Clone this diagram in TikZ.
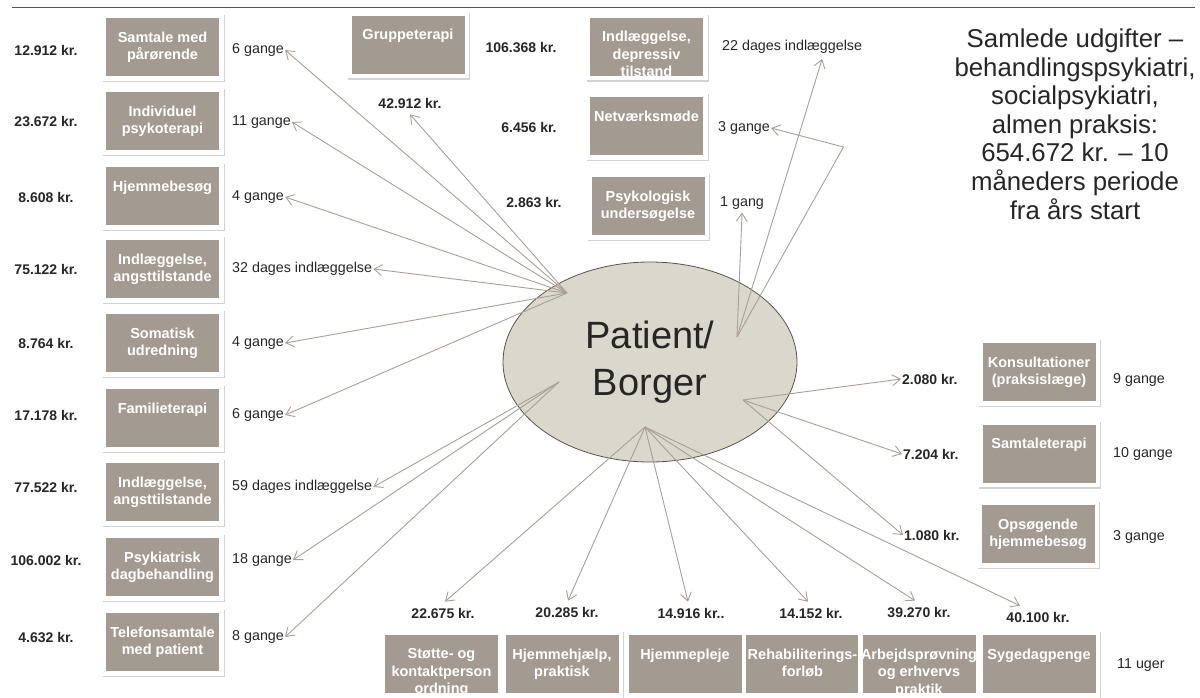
\documentclass[tikz,border=0pt]{standalone}
\usepackage{fontspec}
\setmainfont{Liberation Sans}
\usetikzlibrary{arrows.meta,shadows,shapes.geometric}
\definecolor{kassegraa}{HTML}{A39A92}
\definecolor{ellipsefarve}{HTML}{DAD8CC}
\definecolor{randfarve}{HTML}{5E5248}
\definecolor{pilfarve}{HTML}{A89F97}
\definecolor{tekstfarve}{HTML}{262626}
\begin{document}
\begin{tikzpicture}[x=1pt, y=-1pt,
    >={Straight Barb[length=8pt,width=11pt]},
    ramme/.style={rectangle, fill=white, minimum width=122pt, minimum height=67pt, inner sep=0pt,
        drop shadow={shadow xshift=1pt, shadow yshift=-1.5pt, opacity=.35}},
    kasse/.style={rectangle, fill=kassegraa, minimum width=113pt, minimum height=58pt, inner sep=0pt},
    kassetekst/.style={anchor=north, align=center, text=white, inner sep=0pt,
        font=\fontsize{14.5}{17.5}\selectfont\bfseries},
    beloeb/.style={text=tekstfarve, inner sep=1pt, font=\fontsize{14}{16}\selectfont\bfseries},
    antal/.style={text=tekstfarve, inner sep=1pt, anchor=west, font=\fontsize{14.3}{16}\selectfont},
    pil/.style={->, draw=pilfarve, line width=.9pt}]
\useasboundingbox (0,0) rectangle (1200,697);
\draw[randfarve, line width=1.5pt] (12,7.5) -- (1195,7.5);

\foreach \nv/\x/\y/\tekst in {
    sam/162.5/47/{Samtale med\\pårørende},
    ind/162.5/121/{Individuel\\psykoterapi},
    hje/162.5/196/{Hjemmebesøg},
    ang/162.5/269/{Indlæggelse,\\angsttilstande},
    som/162.5/343/{Somatisk\\udredning},
    fam/162.5/418/{Familieterapi},
    angb/162.5/492/{Indlæggelse,\\angsttilstande},
    dag/162.5/567/{Psykiatrisk\\dagbehandling},
    tel/162.5/642/{Telefonsamtale\\med patient},
    gru/408/44.5/{Gruppeterapi},
    dep/646.5/46.5/{Indlæggelse,\\depressiv\\tilstand},
    net/646.5/126/{Netværksmøde},
    psy/648/206/{Psykologisk\\undersøgelse},
    kon/1039/372/{Konsultationer\\(praksislæge)},
    sat/1039/453.5/{Samtaleterapi},
    ops/1038/534/{Opsøgende\\hjemmebesøg},
    sto/441.5/664/{Støtte- og\\kontaktperson\\ordning},
    hjp/562/664/{Hjemmehjælp,\\praktisk},
    hpl/685/664/{Hjemmepleje},
    reh/802.5/664/{Rehabiliterings-\\forløb},
    arb/919/664/{Arbejdsprøvning\\og erhvervs\\praktik},
    syg/1039/664/{Sygedagpenge}}
{
    \node[ramme] (r\nv) at (\x,\y) {};
    \node[kasse] (k\nv) at (r\nv) {};
    \node[kassetekst] (t\nv) at ([yshift=-13.5pt]k\nv.north) {\tekst};
}

\foreach \i/\y/\kr/\n in {1/50/12.912 kr./6 gange, 2/122/23.672 kr./11 gange,
    3/197/8.608 kr./4 gange, 4/269/75.122 kr./32 dages indlæggelse,
    5/343/8.764 kr./4 gange, 6/415/17.178 kr./6 gange,
    7/487/77.522 kr./59 dages indlæggelse, 8/560/106.002 kr./18 gange,
    9/637/4.632 kr./8 gange}
{
    \node[beloeb] (b\i) at (46,\y) {\kr};
    \node[antal] (c\i) at (231,\y) {\n};
}

\node[beloeb] (bgru) at (410,103) {42.912 kr.};
\node[beloeb] (bdep) at (521,48) {106.368 kr.};
\node[antal] (cdep) at (721,47) {22 dages indlæggelse};
\node[beloeb] (bnet) at (529,127) {6.456 kr.};
\node[antal] (cnet) at (717,128) {3 gange};
\node[beloeb] (bpsy) at (534,203) {2.863 kr.};
\node[antal] (cpsy) at (719,203) {1 gang};

\node[beloeb, anchor=west] (bkon) at (901,379) {2.080 kr.};
\node[beloeb, anchor=west] (bsat) at (902,454) {7.204 kr.};
\node[beloeb, anchor=west] (bops) at (903,535) {1.080 kr.};
\node[antal] (ckon) at (1112,380) {9 gange};
\node[antal] (csat) at (1112,454) {10 gange};
\node[antal] (cops) at (1112,537) {3 gange};

\foreach \i/\x/\y/\kr in {1/443/613/22.675 kr., 2/567/612/20.285 kr., 3/691/613/{14.916 kr..},
    4/811/613/14.152 kr., 5/919/612/39.270 kr., 6/1038/617/40.100 kr.}
    \node[beloeb] (bb\i) at (\x,\y) {\kr};
\node[antal] (csyg) at (1116,665) {11 uger};

\node[ellipse, draw=randfarve, fill=ellipsefarve, line width=.8pt, minimum width=294pt, minimum height=200pt,
    align=center, text=tekstfarve, font=\fontsize{38}{47}\selectfont] (patient) at (650,362) {Patient/\\Borger};
\coordinate (ov) at (567,293);
\coordinate (nv) at (559,382);
\coordinate (oh) at (737,337);
\coordinate (h) at (743,400);
\coordinate (nd) at (645,427);
\coordinate (knaek) at (843.5,147);

\foreach \i in {1,...,6}
    \draw[pil] (ov) -- (c\i.east);
\foreach \i in {7,8,9}
    \draw[pil] (nv) -- (c\i.east);
\draw[pil] (ov) -- ([yshift=-5pt]bgru.south);
\draw[pil] (oh) -- ([xshift=30pt,yshift=-4pt]cdep.south);
\draw[pil] (oh) -- (knaek) -- (cnet.east);
\draw[pil] (oh) -- ([yshift=-2pt]cpsy.south);
\draw[pil] (h) -- (bkon.west);
\draw[pil] (h) -- (bsat.west);
\draw[pil] (h) -- (bops.west);
\foreach \i/\dx in {1/2pt,2/1pt,3/-3pt,4/-3pt,5/-4pt,6/-18pt}
    \draw[pil] (nd) -- ([xshift=\dx,yshift=5pt]bb\i.north);

\node[align=center, text=tekstfarve, font=\fontsize{25.8}{28.6}\selectfont] (titel) at (1075,124)
    {Samlede udgifter –\\behandlingspsykiatri,\\socialpsykiatri,\\almen praksis:\\654.672 kr. – 10\\måneders periode\\fra års start};
\end{tikzpicture}
\end{document}
